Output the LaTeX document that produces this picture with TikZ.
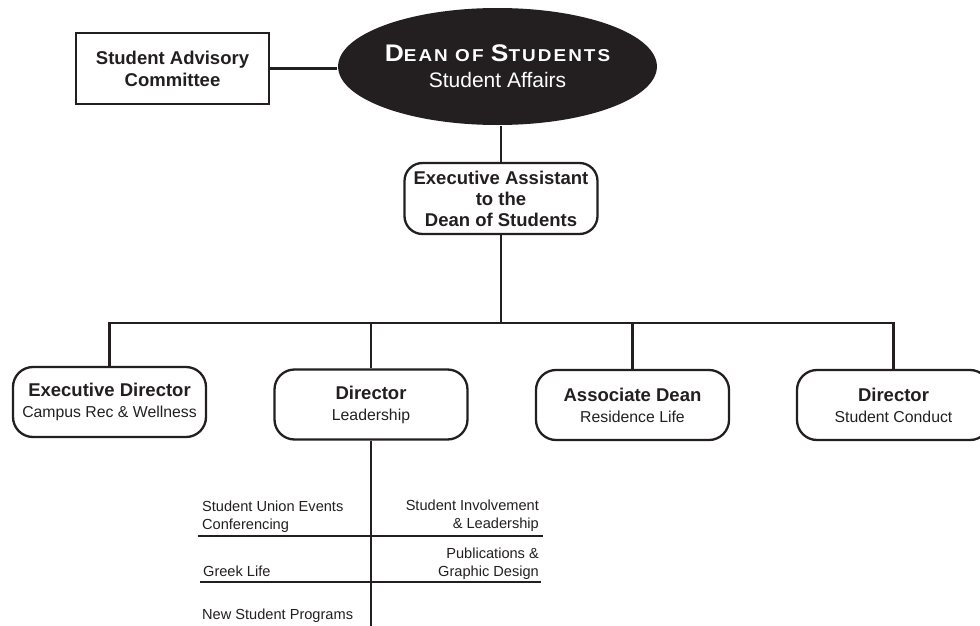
\documentclass[tikz,border=0pt]{standalone}
\usepackage{fontspec}
\setmainfont{Liberation Sans}
\newfontfamily\deanfont[FakeStretch=1.1,LetterSpace=12]{Liberation Sans}
\usetikzlibrary{shapes.geometric}
\definecolor{ink}{HTML}{231F20}
\begin{document}
\begin{tikzpicture}[x=1pt,y=-1pt,
  line width=2.3pt, draw=ink,
  every node/.style={inner sep=0pt, text=ink},
  plainbox/.style={draw=ink, rectangle, minimum width=193pt, minimum height=71pt,
    align=center, font=\fontsize{18.5}{22}\selectfont\bfseries},
  roundbox/.style={draw=ink, rectangle, rounded corners=20pt, minimum width=193pt,
    minimum height=70pt, align=center, font=\fontsize{15.8}{21}\selectfont},
  deanshape/.style={ellipse, fill=ink, draw=none, minimum width=313pt, minimum height=117pt,
    align=center, text=white, font=\fontsize{21}{26}\selectfont},
  lbl/.style={font=\fontsize{14.6}{18}\selectfont},
  ttl/.style={}
]
\useasboundingbox (0,0) rectangle (980,626);

% nodes
\node[plainbox] (adv) at (172.5,68.5) {Student Advisory\\Committee};
\node[deanshape] (dean) at (497.5,66.5)
  {{\deanfont\bfseries\fontsize{24}{26}\selectfont D{\fontsize{17.2}{26}\selectfont EAN OF }S{\fontsize{17.2}{26}\selectfont TUDENTS}}\\Student Affairs};
\node[roundbox, rounded corners=18pt, minimum height=71pt, font=\fontsize{18.5}{21}\selectfont\bfseries] (ea) at (501,198.5)
  {Executive Assistant\\to the\\Dean of Students};

\node[roundbox] (b1) at (109.5,402) {{\bfseries\fontsize{18.5}{21}\selectfont Executive Director}\\Campus Rec \& Wellness};
\node[roundbox] (b2) at (371,404.5) {{\bfseries\fontsize{18.5}{21}\selectfont Director}\\Leadership};
\node[roundbox] (b3) at (632.5,405) {{\bfseries\fontsize{18.5}{21}\selectfont Associate Dean}\\Residence Life};
\node[roundbox] (b4) at (893.5,405) {{\bfseries\fontsize{18.5}{21}\selectfont Director}\\Student Conduct};

% coordinates
\coordinate (bus) at (503,323);
\coordinate (stemend) at (372,632);
\coordinate (r1l) at (198,536);
\coordinate (r1r) at (543,536);
\coordinate (r2l) at (200,582);
\coordinate (r2r) at (541,582);

% connectors
\draw (adv.east) -- (adv.east -| dean.west);
\draw (dean.south -| ea.north) -- (ea.north);
\draw (ea.south) -- (ea.south |- bus);
\draw (b1.north) -- (b1.north |- bus) -- (b4.north |- bus) -- (b4.north);
\draw (b2.north) -- (b2.north |- bus);
\draw (b3.north) -- (b3.north |- bus);
\draw (b2.south) -- (b2.south |- stemend);
\draw (r1l) -- (r1r);
\draw (r2l) -- (r2r);

% leadership units
\node[lbl, anchor=base west] (sue) at (201,511) {Student Union Events};
\node[lbl, anchor=base west] (conf) at (201,529) {Conferencing};
\node[lbl, anchor=base east] (sil) at (540,510) {Student Involvement};
\node[lbl, anchor=base east] (lead) at (540,528) {\& Leadership};
\node[lbl, anchor=base east] (pub) at (540,558) {Publications \&};
\node[lbl, anchor=base east] (gd) at (540,576) {Graphic Design};
\node[lbl, anchor=base west] (gl) at (202,576) {Greek Life};
\node[lbl, anchor=base west] (nsp) at (201,619) {New Student Programs};
\end{tikzpicture}
\end{document}
